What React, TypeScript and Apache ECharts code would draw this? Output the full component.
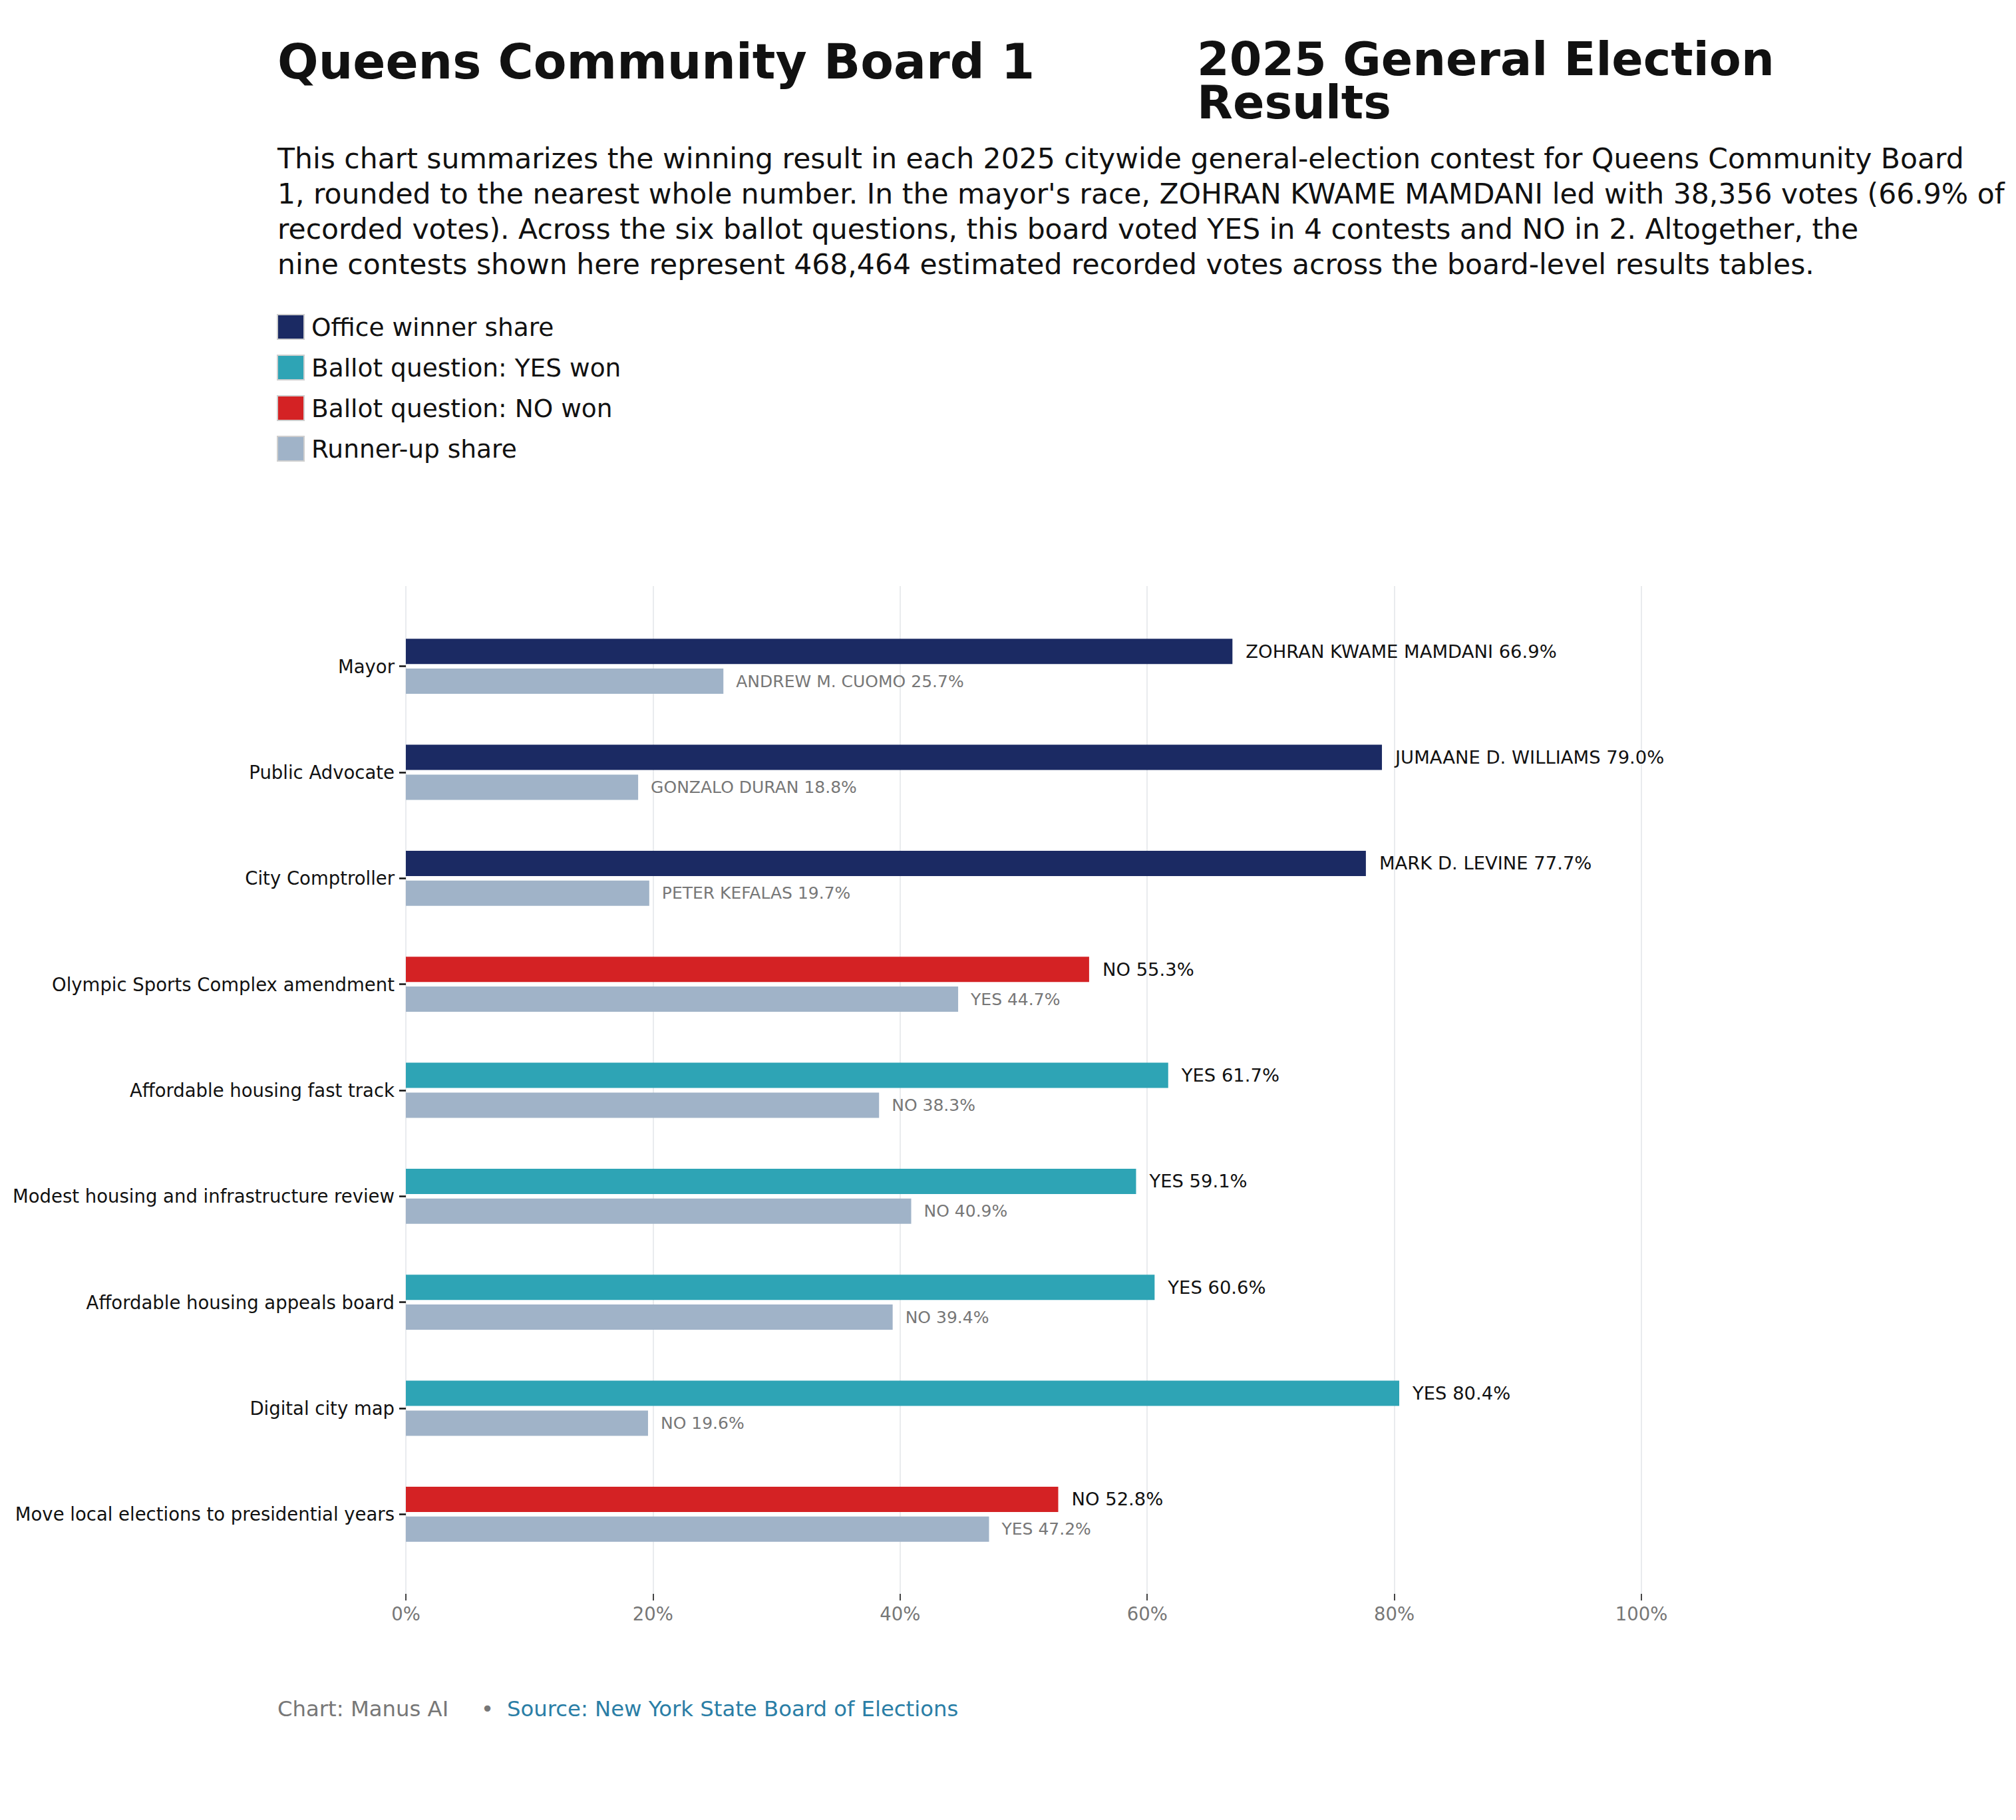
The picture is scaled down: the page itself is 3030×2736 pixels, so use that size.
import React, { useEffect, useRef } from 'react';
import * as echarts from 'echarts';

// contests, top to bottom
const categories = [
  'Mayor',
  'Public Advocate',
  'City Comptroller',
  'Olympic Sports Complex amendment',
  'Affordable housing fast track',
  'Modest housing and infrastructure review',
  'Affordable housing appeals board',
  'Digital city map',
  'Move local elections to presidential years',
];
const contestKind = ['office', 'office', 'office', 'no', 'yes', 'yes', 'yes', 'yes', 'no'];
const winnerNames = ['ZOHRAN KWAME MAMDANI', 'JUMAANE D. WILLIAMS', 'MARK D. LEVINE', 'NO', 'YES', 'YES', 'YES', 'YES', 'NO'];
const winnerShare = [66.9, 79.0, 77.7, 55.3, 61.7, 59.1, 60.6, 80.4, 52.8];
const runnerNames = ['ANDREW M. CUOMO', 'GONZALO DURAN', 'PETER KEFALAS', 'YES', 'NO', 'NO', 'NO', 'NO', 'YES'];
const runnerShare = [25.7, 18.8, 19.7, 44.7, 38.3, 40.9, 39.4, 19.6, 47.2];
const xTicks = [0, 20, 40, 60, 80, 100];

const legendNames = ['Office winner share', 'Ballot question: YES won', 'Ballot question: NO won', 'Runner-up share'];

const subtitle = [
  'This chart summarizes the winning result in each 2025 citywide general-election contest for Queens Community Board',
  "1, rounded to the nearest whole number. In the mayor's race, ZOHRAN KWAME MAMDANI led with 38,356 votes (66.9% of",
  'recorded votes). Across the six ballot questions, this board voted YES in 4 contests and NO in 2. Altogether, the',
  'nine contests shown here represent 468,464 estimated recorded votes across the board-level results tables.',
];

const NAVY = '#1b2a63';
const TEAL = '#2ea4b5';
const RED = '#d42224';
const RUNNER = '#a0b3c8';
const FONT = 'DejaVu Sans';

const App: React.FC = () => {
  const chartRef = useRef<HTMLDivElement>(null);

  useEffect(() => {
    if (!chartRef.current) return;
    const chart = echarts.init(chartRef.current, undefined, { renderer: 'svg' });

    const winnerSeries = (name: string, kind: string, color: string) => ({
      name,
      type: 'bar',
      stack: 'win',
      xAxisIndex: 0,
      yAxisIndex: 0,
      barWidth: 38,
      itemStyle: { color },
      data: winnerShare.map((v, i) => (contestKind[i] === kind ? v : '-')),
      label: {
        show: true,
        position: 'right',
        distance: 20,
        fontFamily: FONT,
        fontSize: 27.4,
        color: '#111',
        formatter: (p: any) => `${winnerNames[p.dataIndex]} ${winnerShare[p.dataIndex].toFixed(1)}%`,
      },
    });

    const option = {
      animation: false,
      textStyle: { fontFamily: FONT },
      legend: {
        data: legendNames,
        orient: 'vertical',
        left: 416,
        top: 472,
        padding: 0,
        itemWidth: 40,
        itemHeight: 37,
        itemGap: 22,
        icon: 'rect',
        itemStyle: { borderColor: '#cfcfcf', borderWidth: 2 },
        textStyle: { fontFamily: FONT, fontSize: 37.5, lineHeight: 37, color: '#111', padding: [0, 0, 0, 6] },
      },
      grid: [
        { left: 610, right: 563, top: 922, bottom: 380 },
        { left: 610, right: 563, top: 881, bottom: 340 },
      ],
      xAxis: [
        { gridIndex: 0, type: 'value', min: 0, max: 100, show: false },
        {
          gridIndex: 1,
          type: 'value',
          min: 0,
          max: 100,
          interval: 20,
          axisLine: { show: false },
          axisTick: { show: true, length: 10, lineStyle: { color: '#444', width: 2 } },
          axisLabel: {
            fontFamily: FONT,
            fontSize: 27.5,
            color: '#777',
            margin: 16,
            formatter: (v: number) => (xTicks.includes(v) ? `${v}%` : ''),
          },
          splitLine: { show: true, lineStyle: { color: '#e9ebee', width: 2 } },
        },
      ],
      yAxis: [
        {
          gridIndex: 0,
          type: 'category',
          inverse: true,
          data: categories,
          axisLine: { show: false },
          axisTick: { show: true, alignWithLabel: true, length: 10, lineStyle: { color: '#111', width: 2.5 } },
          axisLabel: { fontFamily: FONT, fontSize: 27.5, color: '#111', margin: 17 },
        },
        { gridIndex: 1, type: 'value', show: false },
      ],
      series: [
        winnerSeries(legendNames[0], 'office', NAVY),
        winnerSeries(legendNames[1], 'yes', TEAL),
        winnerSeries(legendNames[2], 'no', RED),
        {
          name: legendNames[3],
          type: 'bar',
          xAxisIndex: 0,
          yAxisIndex: 0,
          barWidth: 38,
          barGap: '18%',
          itemStyle: { color: RUNNER },
          data: runnerShare,
          label: {
            show: true,
            position: 'right',
            distance: 19,
            fontFamily: FONT,
            fontSize: 25,
            color: '#777',
            formatter: (p: any) => `${runnerNames[p.dataIndex]} ${runnerShare[p.dataIndex].toFixed(1)}%`,
          },
        },
      ],
      graphic: [
        {
          type: 'text',
          left: 417,
          top: 56,
          style: {
            text: 'Queens Community Board 1',
            fontFamily: FONT,
            fontWeight: 'bold',
            fontSize: 72.5,
            lineHeight: 65,
            fill: '#111',
          },
        },
        {
          type: 'text',
          left: 1799,
          top: 54,
          style: {
            text: '2025 General Election\nResults',
            fontFamily: FONT,
            fontWeight: 'bold',
            fontSize: 70,
            lineHeight: 65,
            fill: '#111',
          },
        },
        {
          type: 'text',
          left: 417,
          top: 212,
          style: {
            text: subtitle.join('\n'),
            fontFamily: FONT,
            fontSize: 42.5,
            lineHeight: 53,
            fill: '#111',
          },
        },
        {
          type: 'text',
          left: 417,
          top: 2553,
          style: { text: 'Chart: Manus AI', fontFamily: FONT, fontSize: 32.3, lineHeight: 32, fill: '#777' },
        },
        {
          type: 'text',
          left: 723,
          top: 2553,
          style: { text: '•', fontFamily: FONT, fontSize: 32.3, lineHeight: 32, fill: '#777' },
        },
        {
          type: 'text',
          left: 762,
          top: 2553,
          style: {
            text: 'Source: New York State Board of Elections',
            fontFamily: FONT,
            fontSize: 32.3,
            lineHeight: 32,
            fill: '#2a7ea6',
          },
        },
      ],
    };

    chart.setOption(option as any);
    return () => {
      chart.dispose();
    };
  }, []);

  return (
    <div
      ref={chartRef}
      style={{ position: 'absolute', left: 0, top: 0, width: 3030, height: 2736, background: '#fff' }}
    />
  );
};

export default App;
